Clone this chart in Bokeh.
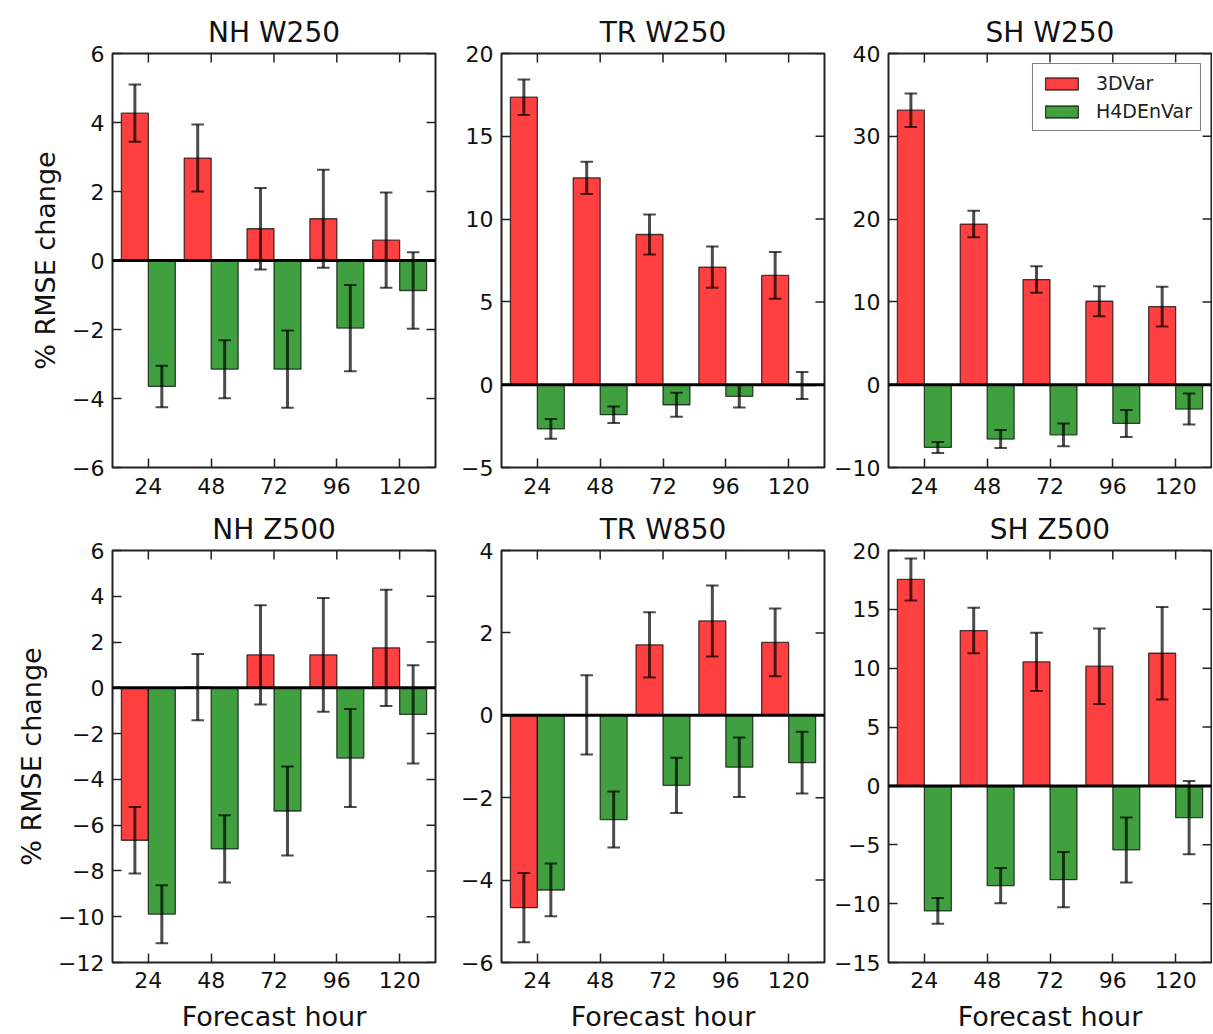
import math
from bokeh.plotting import figure
from bokeh.layouts import column, row
from bokeh.models import (FixedTicker, Span, Legend, LegendItem,
                          CustomJSTickFormatter, Range1d, ColumnDataSource)
from bokeh.embed import file_html
from bokeh.resources import INLINE

# ---------------- data ----------------
hours = [24, 48, 72, 96, 120]
titles = ["NH W250", "TR W250", "SH W250", "NH Z500", "TR W850", "SH Z500"]
series_names = ["3DVar", "H4DEnVar"]

nh_w250_3dvar = [4.27, 2.97, 0.92, 1.21, 0.59]
nh_w250_3dvar_err = [0.83, 0.97, 1.18, 1.42, 1.38]
nh_w250_h4d = [-3.65, -3.15, -3.15, -1.96, -0.87]
nh_w250_h4d_err = [0.60, 0.84, 1.12, 1.25, 1.11]

tr_w250_3dvar = [17.36, 12.49, 9.07, 7.10, 6.60]
tr_w250_3dvar_err = [1.07, 0.98, 1.21, 1.25, 1.41]
tr_w250_h4d = [-2.67, -1.81, -1.21, -0.70, -0.05]
tr_w250_h4d_err = [0.60, 0.50, 0.73, 0.68, 0.81]

sh_w250_3dvar = [33.15, 19.40, 12.70, 10.08, 9.44]
sh_w250_3dvar_err = [2.03, 1.60, 1.60, 1.80, 2.40]
sh_w250_h4d = [-7.58, -6.57, -6.05, -4.68, -2.94]
sh_w250_h4d_err = [0.66, 1.09, 1.37, 1.63, 1.87]

nh_z500_3dvar = [-6.66, 0.03, 1.44, 1.44, 1.75]
nh_z500_3dvar_err = [1.45, 1.45, 2.17, 2.49, 2.54]
nh_z500_h4d = [-9.89, -7.04, -5.38, -3.07, -1.16]
nh_z500_h4d_err = [1.27, 1.47, 1.94, 2.14, 2.15]

tr_w850_3dvar = [-4.67, 0.01, 1.71, 2.29, 1.77]
tr_w850_3dvar_err = [0.84, 0.96, 0.79, 0.86, 0.82]
tr_w850_h4d = [-4.24, -2.53, -1.70, -1.26, -1.15]
tr_w850_h4d_err = [0.64, 0.68, 0.67, 0.72, 0.75]

sh_z500_3dvar = [17.54, 13.20, 10.54, 10.17, 11.27]
sh_z500_3dvar_err = [1.78, 1.93, 2.48, 3.20, 3.92]
sh_z500_h4d = [-10.62, -8.47, -7.96, -5.44, -2.69]
sh_z500_h4d_err = [1.09, 1.50, 2.35, 2.76, 3.11]

y_limits = [(-6, 6), (-5, 20), (-10, 40), (-12, 6), (-6, 4), (-15, 20)]
y_ticks = [
    [-6, -4, -2, 0, 2, 4, 6],
    [-5, 0, 5, 10, 15, 20],
    [-10, 0, 10, 20, 30, 40],
    [-12, -10, -8, -6, -4, -2, 0, 2, 4, 6],
    [-6, -4, -2, 0, 2, 4],
    [-15, -10, -5, 0, 5, 10, 15, 20],
]
x_limits = (10.3, 133.7)
y_label = "% RMSE change"
x_label = "Forecast hour"

panels = [
    (nh_w250_3dvar, nh_w250_3dvar_err, nh_w250_h4d, nh_w250_h4d_err),
    (tr_w250_3dvar, tr_w250_3dvar_err, tr_w250_h4d, tr_w250_h4d_err),
    (sh_w250_3dvar, sh_w250_3dvar_err, sh_w250_h4d, sh_w250_h4d_err),
    (nh_z500_3dvar, nh_z500_3dvar_err, nh_z500_h4d, nh_z500_h4d_err),
    (tr_w850_3dvar, tr_w850_3dvar_err, tr_w850_h4d, tr_w850_h4d_err),
    (sh_z500_3dvar, sh_z500_3dvar_err, sh_z500_h4d, sh_z500_h4d_err),
]

# ---------------- style ----------------
FONT = "DejaVu Sans"
RED = "#ff4040"
GREEN = "#40a040"
TICK_COLOR = "#222222"
BAR_W = 10.3
CAP_HALF = 2.4
TICK_LEN = 9
FRAME_W = 323
FRAME_H = [414, 412]
# (left, right) borders per column, (top, bottom) per row
COL_B = [(112, 2), (64, 2), (62, 1)]
ROW_B = [(53, 36), (47, 72)]

minus_fmt = CustomJSTickFormatter(code="""
    return tick < 0 ? "\u2212" + Math.abs(tick) : String(tick);
""")


def style_axis(ax, standoff):
    ax.major_tick_in = TICK_LEN
    ax.major_tick_out = 0
    ax.minor_tick_in = 0
    ax.minor_tick_out = 0
    ax.major_tick_line_color = TICK_COLOR
    ax.major_tick_line_width = 1.5
    ax.axis_line_color = None
    ax.major_label_text_font = FONT
    ax.major_label_text_color = "#111111"
    ax.major_label_text_font_size = "22px"
    ax.major_label_standoff = standoff


def make_panel(i):
    r, c = divmod(i, 3)
    v3, e3, vh, eh = panels[i]
    ylo, yhi = y_limits[i]
    p = figure(frame_width=FRAME_W, frame_height=FRAME_H[r],
               x_range=Range1d(*x_limits), y_range=Range1d(ylo, yhi),
               output_backend="svg", toolbar_location=None, tools="",
               min_border_left=COL_B[c][0], min_border_right=COL_B[c][1],
               min_border_top=ROW_B[r][0], min_border_bottom=ROW_B[r][1],
               title=titles[i])
    p.title.text_font = FONT
    p.title.text_font_size = "28px"
    p.title.text_font_style = "normal"
    p.title.align = "center"
    p.title.text_color = "#111111"
    p.xgrid.visible = False
    p.ygrid.visible = False
    p.outline_line_color = TICK_COLOR
    p.outline_line_width = 2
    p.background_fill_color = "white"
    p.border_fill_color = "white"

    xa = p.xaxis[0]
    xa.ticker = FixedTicker(ticks=hours)
    style_axis(xa, 8)
    ya = p.yaxis[0]
    ya.ticker = FixedTicker(ticks=y_ticks[i])
    ya.formatter = minus_fmt
    style_axis(ya, 8)

    # mirrored inward ticks on top and right edges of the frame
    p.ray(x=hours, y=[yhi] * len(hours), length=TICK_LEN, length_units="screen",
          angle=-math.pi / 2, line_color=TICK_COLOR, line_width=1.5)
    p.ray(x=[x_limits[1]] * len(y_ticks[i]), y=y_ticks[i], length=TICK_LEN,
          length_units="screen", angle=math.pi, line_color=TICK_COLOR,
          line_width=1.5)

    if c == 0:
        ya.axis_label = y_label
        ya.axis_label_text_font = FONT
        ya.axis_label_text_font_size = "27px"
        ya.axis_label_text_font_style = "normal"
        ya.axis_label_text_color = "#111111"
        ya.axis_label_standoff = 8
    if r == 1:
        xa.axis_label = x_label
        xa.axis_label_text_font = FONT
        xa.axis_label_text_font_size = "27px"
        xa.axis_label_text_font_style = "normal"
        xa.axis_label_text_color = "#111111"
        xa.axis_label_standoff = 10
        xa.major_label_standoff = 9
    else:
        xa.major_label_standoff = 10

    x3 = [h - BAR_W / 2 for h in hours]
    xh = [h + BAR_W / 2 for h in hours]
    renderers = []
    for xs, vals, errs, col in ((x3, v3, e3, RED), (xh, vh, eh, GREEN)):
        src = ColumnDataSource(dict(
            x=xs, top=vals,
            lo=[v - e for v, e in zip(vals, errs)],
            hi=[v + e for v, e in zip(vals, errs)],
            cl=[x - CAP_HALF for x in xs],
            cr=[x + CAP_HALF for x in xs],
        ))
        rend = p.vbar(x="x", top="top", bottom=0, width=BAR_W, source=src,
                      fill_color=col, line_color="black", line_alpha=0.7,
                      line_width=1.3)
        renderers.append((rend, src))
    for rend, src in renderers:
        p.segment(x0="x", x1="x", y0="lo", y1="hi", source=src,
                  line_color="black", line_alpha=0.7, line_width=3)
        p.segment(x0="cl", x1="cr", y0="lo", y1="lo", source=src,
                  line_color="black", line_alpha=0.7, line_width=2)
        p.segment(x0="cl", x1="cr", y0="hi", y1="hi", source=src,
                  line_color="black", line_alpha=0.7, line_width=2)

    p.add_layout(Span(location=0, dimension="width", line_color="black",
                      line_width=3))

    if i == 2:
        legend = Legend(items=[
            LegendItem(label=series_names[0], renderers=[renderers[0][0]]),
            LegendItem(label=series_names[1], renderers=[renderers[1][0]]),
        ], location="top_right", margin=10, padding=8, spacing=6,
            glyph_width=41, glyph_height=15, label_standoff=14,
            label_text_font=FONT, label_text_font_size="19px",
            label_text_color="#222222",
            border_line_color="black", border_line_width=1.5,
            background_fill_color="white", background_fill_alpha=1)
        p.add_layout(legend)
    return p


figs = [make_panel(i) for i in range(6)]
layout = column(row(figs[0], figs[1], figs[2], spacing=0),
                row(figs[3], figs[4], figs[5], spacing=0), spacing=0)

open("out.html", "w").write(file_html(layout, INLINE))
